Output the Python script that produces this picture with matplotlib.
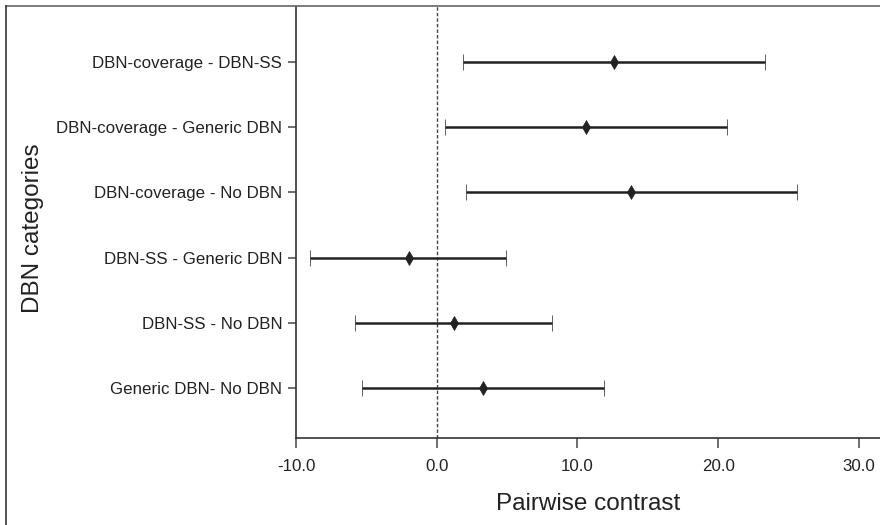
import matplotlib.pyplot as plt
from matplotlib.lines import Line2D

# pairwise contrasts, top to bottom
labels = ["DBN-coverage - DBN-SS", "DBN-coverage - Generic DBN",
          "DBN-coverage - No DBN", "DBN-SS - Generic DBN",
          "DBN-SS - No DBN", "Generic DBN- No DBN"]
est = [12.6, 10.6, 13.8, -2.0, 1.2, 3.3]
lo = [1.9, 0.6, 2.1, -9.0, -5.8, -5.3]
hi = [23.3, 20.6, 25.6, 4.9, 8.2, 11.9]
xticks = [-10, 0, 10, 20, 30]

plt.rcParams["font.family"] = ["Liberation Sans", "DejaVu Sans"]
ink = "#222222"

fig = plt.figure(figsize=(8.8, 5.25), dpi=100)
ax = fig.add_axes([0.3364, 0.1657, 0.6636, 0.8229])

ypos = [len(labels) - 1 - i for i in range(len(labels))]
err = [[e - l for e, l in zip(est, lo)], [h - e for e, h in zip(est, hi)]]
ax.errorbar(est, ypos, xerr=err, fmt="d", color=ink, ecolor=ink,
            markersize=7, markeredgewidth=0.5, elinewidth=1.8,
            capsize=5.5, capthick=2)
ax.axvline(0, color="#444444", lw=1, ls=(0, (2.5, 1.5)), zorder=0)

ax.set_xlim(-10, 31.5)
ax.set_ylim(-0.77, 5.86)
ax.set_xticks(xticks)
ax.set_xticklabels(["%.1f" % t for t in xticks])
ax.set_yticks(ypos)
ax.set_yticklabels(labels)
ax.tick_params(axis="both", direction="out", colors="#555555",
               labelcolor=ink, labelsize=12.2, width=1.2)
ax.tick_params(axis="x", length=7, pad=8)
ax.tick_params(axis="y", length=6, pad=4)

for s in ["top", "right"]:
    ax.spines[s].set_visible(False)
for s in ["left", "bottom"]:
    ax.spines[s].set_color("#333333")
    ax.spines[s].set_linewidth(1.2)

ax.set_xlabel("Pairwise contrast", fontsize=17.5, color=ink, labelpad=14)
fig.text(0.037, 0.565, "DBN categories", rotation=90, fontsize=17.5,
         color=ink, ha="center", va="center")

# outer frame (top and left edges)
fig.add_artist(Line2D([6 / 880, 1], [1 - 6 / 525, 1 - 6 / 525],
                      transform=fig.transFigure, color="#666666", lw=1.2))
fig.add_artist(Line2D([6 / 880, 6 / 880], [0, 1 - 6 / 525],
                      transform=fig.transFigure, color="#333333", lw=1.2))

fig.savefig("out.png", dpi=100)
